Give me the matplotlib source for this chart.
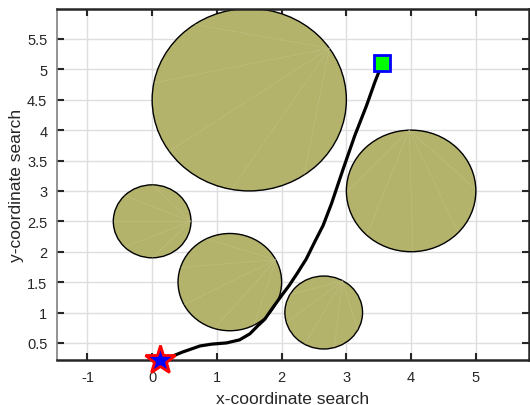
import numpy as np
import matplotlib
matplotlib.use("Agg")
import matplotlib.pyplot as plt
from matplotlib.patches import Circle

plt.rcParams['font.family'] = ['Liberation Sans', 'DejaVu Sans']
plt.rcParams['axes.unicode_minus'] = False

# Obstacles: centres and radii
obs_x = [1.5, 4.0, 0.0, 1.2, 2.65]
obs_y = [4.5, 3.0, 2.5, 1.5, 1.0]
obs_r = [1.5, 1.0, 0.6, 0.8, 0.6]

# Planned path waypoints
path_x = [0.12, 0.24, 0.47, 0.74, 0.92, 1.15, 1.35, 1.51, 1.63, 1.74, 1.87,
          2.00, 2.12, 2.25, 2.38, 2.51, 2.64, 2.77, 2.95, 3.13, 3.31, 3.44,
          3.51, 3.55]
path_y = [0.22, 0.25, 0.35, 0.45, 0.48, 0.50, 0.55, 0.65, 0.78, 0.89, 1.09,
          1.28, 1.45, 1.66, 1.88, 2.16, 2.43, 2.79, 3.36, 3.91, 4.40, 4.79,
          4.98, 5.10]

start = (0.12, 0.22)
goal = (3.55, 5.10)

x_ticks = [-1, 0, 1, 2, 3, 4, 5]
y_ticks = [0.5, 1, 1.5, 2, 2.5, 3, 3.5, 4, 4.5, 5, 5.5]
y_ticklabels = ['0.5', '1', '1.5', '2', '2.5', '3', '3.5', '4', '4.5', '5', '5.5']

fig = plt.figure(figsize=(5.3, 4.06), dpi=100)
ax = fig.add_axes([0.1075, 0.111, 0.8905, 0.864])

fill = '#b4b36c'
for cx, cy, r in zip(obs_x, obs_y, obs_r):
    ax.add_patch(Circle((cx, cy), r, facecolor=fill, edgecolor='black',
                        linewidth=1.0, zorder=2))
    # faint facet seams of the filled polygon
    th = np.linspace(0, 2 * np.pi, 9)[:-1] + 0.4 * cx
    apex = (cx + r * np.cos(th[0]), cy + r * np.sin(th[0]))
    for t in th[2:-1]:
        ax.plot([apex[0], cx + r * np.cos(t)], [apex[1], cy + r * np.sin(t)],
                color='#d6d4a6', lw=0.4, alpha=0.5, ls=(0, (4, 1.5)),
                zorder=2.5)

ax.plot(path_x, path_y, color='black', lw=2.3, zorder=3,
        solid_capstyle='round', solid_joinstyle='round')

ax.plot(*start, marker='*', markersize=22, markerfacecolor='blue',
        markeredgecolor='red', markeredgewidth=2, zorder=5, clip_on=False)
ax.plot(*goal, marker='s', markersize=11, markerfacecolor='#00ff00',
        markeredgecolor='blue', markeredgewidth=2, zorder=5, clip_on=False)

ax.set_xlim(-1.47, 5.82)
ax.set_ylim(0.22, 5.99)
ax.set_xticks(x_ticks)
ax.set_yticks(y_ticks)
ax.set_yticklabels(y_ticklabels)
ax.grid(True, color='#dedede', linewidth=1.0, zorder=0)
ax.set_axisbelow(True)

ax.tick_params(direction='in', length=5, width=1.5, top=True, right=True,
               labelsize=10.5, labelcolor='#262626', color='#262626', pad=7)
for side in ['top', 'bottom', 'right']:
    ax.spines[side].set_color('#262626')
    ax.spines[side].set_linewidth(1.8)
ax.spines['left'].set_color('#808080')
ax.spines['left'].set_linewidth(1.2)

ax.set_xlabel('x-coordinate search', fontsize=12.5, color='#262626', labelpad=5)
ax.set_ylabel('y-coordinate search', fontsize=12.5, color='#262626', labelpad=2)

fig.savefig('out.png', dpi=100)
